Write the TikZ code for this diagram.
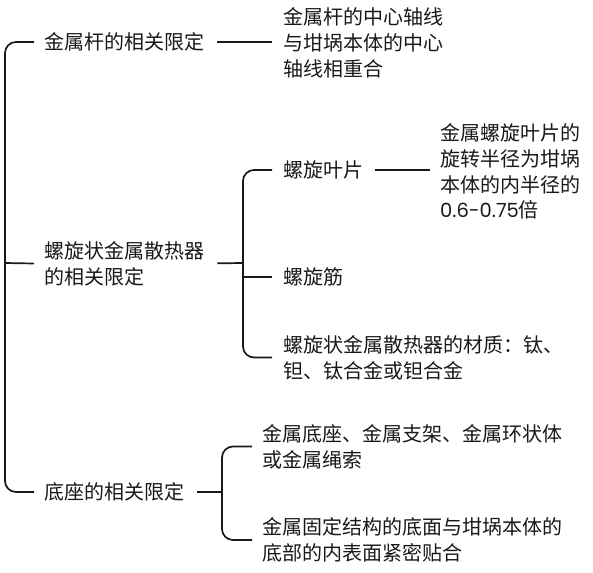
\documentclass[tikz,border=0pt]{standalone}
\usepackage{fontspec}
\setmainfont{Noto Sans CJK SC}
\newfontfamily\latinfont{Poppins}
\usetikzlibrary{calc}
\begin{document}
\begin{tikzpicture}[x=1pt,y=-1pt,
  txt/.style={anchor=west,inner sep=0pt,align=left,font=\fontsize{20}{25.7}\selectfont,text=black!90},
  conn/.style={line width=1.7pt,black!90},
  brack/.style={conn,rounded corners=11pt}]
\useasboundingbox (0,0) rectangle (593,572);
% level 1
\node[txt] (n1) at (44,42) {金属杆的相关限定};
\node[txt] (n2) at (44,263.5) {螺旋状金属散热器\\的相关限定};
\node[txt] (n3) at (44,492) {底座的相关限定};
% level 2
\node[txt] (n11) at (283,43) {金属杆的中心轴线\\与坩埚本体的中心\\轴线相重合};
\node[txt] (n21) at (283,170) {螺旋叶片};
\node[txt] (n211) at (440,171.5) {金属螺旋叶片的\\旋转半径为坩埚\\本体的内半径的\\{\latinfont\fontsize{19.5}{25.7}\selectfont 0.6-0.75}倍};
\node[txt] (n22) at (283,277) {螺旋筋};
\node[txt] (n23) at (283,357.5) {螺旋状金属散热器的材质：钛、\\钽、钛合金或钽合金};
\node[txt] (n31) at (262,446.5) {金属底座、金属支架、金属环状体\\或金属绳索};
\node[txt] (n32) at (262,540) {金属固定结构的底面与坩埚本体的\\底部的内表面紧密贴合};
% spine coordinates
\coordinate (r) at (5,263);
\coordinate (b2) at (243,263);
\coordinate (b3) at (222,492);
% root bracket
\draw[brack] ([xshift=-10pt]n1.west) -| (r) |- ([xshift=-10pt]n3.west);
\draw[conn] ([xshift=-10pt]n2.west) -- (r);
% n1 -> n11
\draw[conn,shorten <=13pt,shorten >=11pt] (n1.east) -- (n1.east -| n11.west);
% n2 bracket
\draw[conn,shorten <=13pt] (n2.east) -- (b2);
\draw[brack] ([xshift=-11pt]n21.west) -| (b2) |- ([xshift=-11pt]n23.west);
\draw[conn] (b2 |- n22.west) -- ([xshift=-11pt]n22.west);
% n21 -> n211
\draw[conn,shorten <=12pt,shorten >=10pt] (n21.east) -- (n21.east -| n211.west);
% n3 bracket
\draw[conn,shorten <=13pt] (n3.east) -- (b3);
\draw[brack] ([xshift=-10pt]n31.west) -| (b3) |- ([xshift=-10pt]n32.west);
\end{tikzpicture}
\end{document}
